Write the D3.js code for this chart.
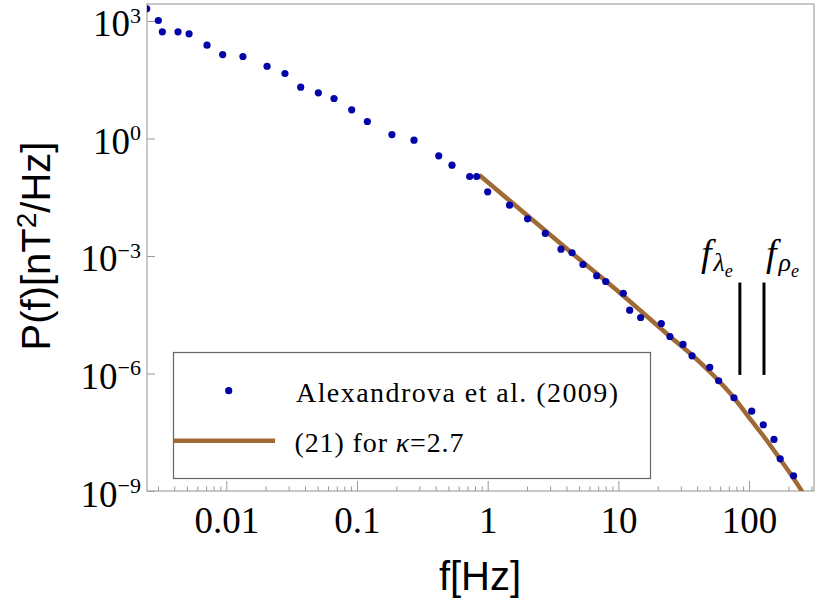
<!DOCTYPE html>
<html>
<head>
<meta charset="utf-8">
<script src="https://cdn.jsdelivr.net/npm/d3@7"></script>
<style>
  body { margin: 0; background: #fff; }
  svg { display: block; }
  .tick line { stroke: #999; }
  .domain { display: none; }
  .serif { font-family: "Liberation Serif", "DejaVu Serif", serif; }
  .sans { font-family: "Liberation Sans", "DejaVu Sans", sans-serif; }
</style>
</head>
<body>
<svg id="chart" width="830" height="609"></svg>
<script>
const freqs = [0.00246, 0.00302, 0.00324, 0.00427, 0.00519, 0.00712, 0.00938, 0.0134, 0.0205, 0.0281,
  0.0371, 0.0506, 0.0667, 0.0911, 0.120, 0.185, 0.273, 0.422, 0.533, 0.728, 0.824, 1.0, 1.47, 2.02,
  2.76, 3.64, 4.42, 5.36, 6.82, 8.0, 10.9, 12.2, 14.8, 21.3, 24.8, 31.2, 36.6, 50.0, 58.5, 76.6,
  104.7, 128.4, 155, 173, 219];
const power = [2050, 1030, 530, 530, 471, 241, 139, 124, 70, 45.6,
  20.4, 14.7, 10.5, 5.4, 2.72, 1.26, 0.905, 0.362, 0.208, 0.107, 0.107, 0.0436, 0.0198, 0.0089,
  0.00376, 0.00149, 0.00121, 6.07e-4, 3.13e-4, 2.23e-4, 1.12e-4, 4.14e-5, 2.69e-5, 1.89e-5, 8.81e-6, 5.51e-6, 2.83e-6, 1.43e-6, 6.52e-7, 2.40e-7,
  1.09e-7, 4.91e-8, 2.07e-8, 6.65e-9, 2.45e-9];

// model curve (21) for kappa = 2.7
const modelF = [0.862, 4.264, 10.84, 24.82, 36.58, 50.22, 58.55, 76.24, 104.7, 127.1, 155.1, 174.5, 220.6, 252.6, 272.5];
const modelP = [0.117, 1.303e-3, 9.81e-5, 8.81e-6, 2.97e-6, 1.093e-6, 6.52e-7, 2.443e-7, 6.13e-8, 2.69e-8, 1.083e-8, 6.20e-9, 2.03e-9, 1.002e-9, 6.72e-10];

// characteristic frequencies f_lambda_e, f_rho_e
const markerFreqs = [85, 130];
const markerSpan = [2.1e-4, 9.2e-7];

const xTicks = [0.01, 0.1, 1, 10, 100];
const xTickLabels = ["0.01", "0.1", "1", "10", "100"];
const yTicks = [1e3, 1, 1e-3, 1e-6, 1e-9];
const yTickExp = ["3", "0", "\u22123", "\u22126", "\u22129"];

const plotL = 147, plotR = 814, plotT = 4, plotB = 491;
const dotColor = "#0303aa";
const lineColor = "#a06a35";

const svg = d3.select("#chart");

const x = d3.scaleLog().domain([0.002473, 313.8]).range([plotL, plotR]);
const y = d3.scaleLog().domain([1e-9, 2716]).range([plotB, plotT]);

svg.append("clipPath").attr("id", "plotclip")
  .append("rect").attr("x", plotL).attr("y", plotT)
  .attr("width", plotR - plotL).attr("height", plotB - plotT);

// minor x ticks
const minor = [];
for (let e = -3; e <= 2; e++) {
  for (let k = 2; k <= 9; k++) {
    const v = k * Math.pow(10, e);
    if (v > x.domain()[0] && v < x.domain()[1]) minor.push(v);
  }
}
svg.append("g")
  .attr("transform", `translate(0,${plotB})`)
  .call(d3.axisBottom(x).tickValues(minor).tickSize(-4.5).tickFormat(""));

// major x ticks
const gx = svg.append("g")
  .attr("transform", `translate(0,${plotB})`)
  .call(d3.axisBottom(x).tickValues(xTicks).tickSize(-10)
    .tickFormat((d, i) => xTickLabels[i]));
gx.attr("font-family", null).attr("font-size", null);
gx.selectAll("text")
  .attr("class", "serif")
  .attr("y", 41.5).attr("dy", 0)
  .attr("fill", "#000")
  .style("font-size", "37px");

// y ticks
const gy = svg.append("g")
  .attr("transform", `translate(${plotL},0)`)
  .call(d3.axisLeft(y).tickValues(yTicks).tickSize(-8).tickFormat(""));
gy.attr("font-family", null).attr("font-size", null);
gy.selectAll(".tick").each(function (d, i) {
  const t = d3.select(this).append("text")
    .attr("class", "serif")
    .attr("x", -6).attr("y", 15)
    .attr("text-anchor", "end")
    .attr("fill", "#000")
    .style("font-size", "37px");
  t.append("tspan").text("10");
  t.append("tspan").attr("dy", -13.5).style("font-size", "22px").text(yTickExp[i]);
});

// frame
svg.append("rect")
  .attr("x", plotL).attr("y", plotT)
  .attr("width", plotR - plotL).attr("height", plotB - plotT)
  .attr("fill", "none").attr("stroke", "#a3a3a3").attr("stroke-width", 1.2);

const plot = svg.append("g").attr("clip-path", "url(#plotclip)");

// model curve
const model = modelF.map((f, i) => [f, modelP[i]]);
plot.append("path")
  .datum(model)
  .attr("fill", "none")
  .attr("stroke", lineColor)
  .attr("stroke-width", 4.5)
  .attr("d", d3.line().x(d => x(d[0])).y(d => y(d[1])).curve(d3.curveCatmullRom.alpha(0.5)));

// measured points
plot.selectAll("circle.obs")
  .data(freqs.map((f, i) => [f, power[i]]))
  .enter().append("circle")
  .attr("class", "obs")
  .attr("cx", d => x(d[0]))
  .attr("cy", d => y(d[1]))
  .attr("r", 3.6)
  .attr("fill", dotColor);

// marker lines
svg.selectAll("line.mark")
  .data(markerFreqs)
  .enter().append("line")
  .attr("class", "mark")
  .attr("x1", d => x(d)).attr("x2", d => x(d))
  .attr("y1", y(markerSpan[0])).attr("y2", y(markerSpan[1]))
  .attr("stroke", "#000").attr("stroke-width", 3);

const markLabels = [["\u03bb", 701], ["\u03c1", 766]];
markLabels.forEach(([g, px]) => {
  const t = svg.append("text")
    .attr("class", "serif")
    .attr("x", px).attr("y", 266)
    .style("font-style", "italic")
    .style("font-size", "38px");
  t.append("tspan").text("f");
  t.append("tspan").attr("dx", 2).attr("dy", 5).style("font-size", "26px").text(g);
  t.append("tspan").attr("dy", 6).style("font-size", "18px").text("e");
});

// legend
const lg = svg.append("g");
lg.append("rect")
  .attr("x", 173.5).attr("y", 352.5).attr("width", 477).attr("height", 126)
  .attr("fill", "#fff").attr("stroke", "#666").attr("stroke-width", 1.2);
lg.append("circle").attr("cx", 228.7).attr("cy", 390.7).attr("r", 3.6).attr("fill", dotColor);
lg.append("text")
  .attr("class", "serif")
  .attr("x", 296).attr("y", 401.5)
  .attr("textLength", 322).attr("lengthAdjust", "spacing")
  .style("font-size", "28px")
  .text("Alexandrova et al. (2009)");
lg.append("line")
  .attr("x1", 173.5).attr("x2", 275).attr("y1", 440.7).attr("y2", 440.7)
  .attr("stroke", lineColor).attr("stroke-width", 4.5);
const t2 = lg.append("text")
  .attr("class", "serif")
  .attr("x", 294.5).attr("y", 451.5)
  .attr("textLength", 169).attr("lengthAdjust", "spacing")
  .style("font-size", "28px");
t2.append("tspan").text("(21) for ");
t2.append("tspan").style("font-style", "italic").text("\u03ba");
t2.append("tspan").text("=2.7");

// axis titles
svg.append("text")
  .attr("class", "sans")
  .attr("x", 480).attr("y", 590)
  .attr("text-anchor", "middle")
  .style("font-size", "40px")
  .text("f[Hz]");

const yl = svg.append("text")
  .attr("class", "sans")
  .attr("transform", "translate(50,246) rotate(-90)")
  .attr("text-anchor", "middle")
  .style("font-size", "40px");
yl.append("tspan").text("P(f)[nT");
yl.append("tspan").attr("dy", -14).style("font-size", "28px").text("2");
yl.append("tspan").attr("dy", 14).text("/Hz]");
</script>
</body>
</html>
